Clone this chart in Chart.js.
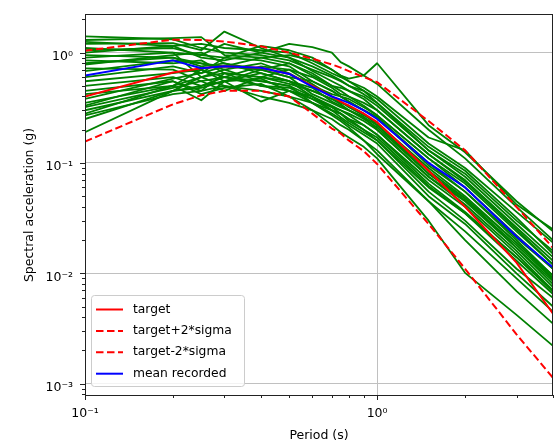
<!DOCTYPE html>
<html>
<head>
<meta charset="utf-8">
<script src="https://cdn.jsdelivr.net/npm/chart.js@4/dist/chart.umd.min.js"></script>
<style>
  html, body { margin: 0; padding: 0; background: #fff; }
  canvas { display: block; }
</style>
</head>
<body>
<canvas id="chart" width="554" height="442"></canvas>
<script>
// periods (s) at which the spectra are sampled
const periods = [0.1, 0.2, 0.25, 0.3, 0.4, 0.5, 0.6, 0.7, 0.75, 0.8, 0.9, 1.0, 1.5, 2.0, 3.0, 4.0];

const target           = [0.40, 0.66, 0.72, 0.75, 0.73, 0.64, 0.50, 0.40, 0.36, 0.33, 0.28, 0.234, 0.085, 0.040, 0.0125, 0.0043];
const targetPlus2Sigma = [1.04, 1.31, 1.30, 1.26, 1.14, 1.00, 0.88, 0.78, 0.73, 0.68, 0.60, 0.54, 0.24, 0.13, 0.040, 0.017];
const targetMinus2Sigma = [0.156, 0.34, 0.41, 0.45, 0.45, 0.40, 0.28, 0.205, 0.185, 0.16, 0.128, 0.098, 0.028, 0.011, 0.0028, 0.00113];
const meanRecorded     = [0.62, 0.85, 0.72, 0.75, 0.73, 0.64, 0.49, 0.40, 0.375, 0.35, 0.30, 0.25, 0.10, 0.060, 0.0216, 0.0113];

// recorded spectra, one row per record
const recorded = [
  [1.40, 1.32, 1.10, 1.00, 0.95, 0.85, 0.70, 0.60, 0.55, 0.50, 0.45, 0.38, 0.150, 0.090, 0.036, 0.019],
  [1.30, 1.35, 1.38, 0.95, 0.90, 0.80, 0.62, 0.50, 0.48, 0.45, 0.40, 0.33, 0.130, 0.080, 0.030, 0.016],
  [1.20, 1.22, 1.05, 1.55, 1.10, 0.90, 0.75, 0.62, 0.56, 0.50, 0.42, 0.35, 0.140, 0.085, 0.032, 0.015],
  [1.10, 1.00, 0.95, 0.90, 1.15, 1.05, 0.90, 0.70, 0.62, 0.58, 0.62, 0.80, 0.220, 0.125, 0.045, 0.024],
  [1.00, 1.15, 0.90, 0.85, 1.00, 1.20, 1.12, 1.00, 0.82, 0.75, 0.62, 0.52, 0.200, 0.110, 0.040, 0.020],
  [0.95, 0.90, 0.75, 0.80, 0.70, 0.60, 0.55, 0.45, 0.40, 0.38, 0.32, 0.27, 0.110, 0.060, 0.022, 0.011],
  [0.90, 1.00, 0.60, 0.70, 0.80, 0.65, 0.50, 0.42, 0.40, 0.36, 0.30, 0.26, 0.100, 0.055, 0.020, 0.0095],
  [0.85, 0.80, 0.85, 0.65, 0.60, 0.70, 0.60, 0.48, 0.42, 0.40, 0.35, 0.30, 0.120, 0.070, 0.026, 0.013],
  [0.78, 0.95, 1.00, 0.80, 0.65, 0.55, 0.45, 0.38, 0.35, 0.33, 0.28, 0.22, 0.085, 0.048, 0.017, 0.0085],
  [0.72, 0.70, 0.55, 0.60, 0.75, 0.70, 0.52, 0.40, 0.36, 0.32, 0.27, 0.23, 0.090, 0.050, 0.019, 0.0090],
  [0.68, 0.85, 0.80, 0.70, 0.55, 0.50, 0.40, 0.33, 0.30, 0.28, 0.24, 0.20, 0.075, 0.042, 0.016, 0.0075],
  [0.60, 0.75, 0.65, 0.90, 0.85, 0.75, 0.55, 0.45, 0.40, 0.36, 0.30, 0.26, 0.095, 0.055, 0.021, 0.011],
  [0.55, 0.65, 0.70, 0.60, 0.50, 0.45, 0.38, 0.30, 0.28, 0.25, 0.22, 0.18, 0.070, 0.040, 0.015, 0.0070],
  [0.50, 0.60, 0.50, 0.55, 0.70, 0.80, 0.65, 0.50, 0.45, 0.40, 0.33, 0.27, 0.110, 0.065, 0.024, 0.012],
  [0.45, 0.55, 0.45, 0.65, 0.60, 0.55, 0.48, 0.36, 0.33, 0.30, 0.25, 0.21, 0.080, 0.046, 0.018, 0.0088],
  [0.42, 0.50, 0.60, 0.50, 0.45, 0.40, 0.35, 0.30, 0.26, 0.23, 0.19, 0.16, 0.060, 0.035, 0.013, 0.0065],
  [0.38, 0.58, 0.65, 0.75, 0.70, 0.60, 0.42, 0.35, 0.32, 0.30, 0.26, 0.22, 0.080, 0.048, 0.019, 0.0095],
  [0.35, 0.50, 0.37, 0.55, 0.36, 0.45, 0.40, 0.32, 0.30, 0.27, 0.22, 0.18, 0.065, 0.036, 0.014, 0.0068],
  [0.32, 0.48, 0.55, 0.45, 0.60, 0.52, 0.45, 0.38, 0.34, 0.30, 0.26, 0.20, 0.075, 0.045, 0.017, 0.0080],
  [0.30, 0.45, 0.50, 0.60, 0.55, 0.50, 0.35, 0.28, 0.25, 0.22, 0.18, 0.15, 0.050, 0.028, 0.010, 0.0050],
  [0.28, 0.50, 0.70, 0.55, 0.65, 0.55, 0.40, 0.30, 0.28, 0.25, 0.20, 0.17, 0.062, 0.035, 0.014, 0.0070],
  [0.27, 0.42, 0.45, 0.50, 0.40, 0.35, 0.30, 0.25, 0.22, 0.20, 0.16, 0.13, 0.045, 0.024, 0.0090, 0.0045],
  [0.25, 0.45, 0.60, 0.65, 0.50, 0.48, 0.38, 0.32, 0.28, 0.24, 0.20, 0.16, 0.055, 0.030, 0.011, 0.0060],
  [0.19, 0.45, 0.48, 0.55, 0.58, 0.45, 0.35, 0.27, 0.24, 0.21, 0.16, 0.12, 0.045, 0.020, 0.0069, 0.0035],
  [0.33, 0.55, 0.42, 0.48, 0.52, 0.40, 0.30, 0.22, 0.19, 0.17, 0.14, 0.11, 0.030, 0.0101, 0.0042, 0.0022],
  [1.25, 1.15, 1.20, 1.10, 1.05, 1.00, 0.80, 0.65, 0.60, 0.55, 0.48, 0.40, 0.170, 0.130, 0.042, 0.025],
  [0.80, 0.90, 0.80, 0.75, 0.90, 0.95, 0.85, 0.70, 0.62, 0.55, 0.45, 0.35, 0.130, 0.075, 0.028, 0.014],
  [1.05, 1.10, 0.95, 1.20, 1.00, 0.90, 0.68, 0.55, 0.50, 0.45, 0.38, 0.30, 0.120, 0.068, 0.025, 0.012]
];

// axes
const xMajorTicks = [0.1, 1];
const xMajorLabels = ['10\u207B\u00B9', '10\u2070'];
const xMinorTicks = [0.2, 0.3, 0.4, 0.5, 0.6, 0.7, 0.8, 0.9, 2, 3, 4];
const yMajorTicks = [0.001, 0.01, 0.1, 1];
const yMajorLabels = ['10\u207B\u00B3', '10\u207B\u00B2', '10\u207B\u00B9', '10\u2070'];
const yMinorTicks = [0.0008, 0.0009, 0.002, 0.003, 0.004, 0.005, 0.006, 0.007, 0.008, 0.009,
  0.02, 0.03, 0.04, 0.05, 0.06, 0.07, 0.08, 0.09, 0.2, 0.3, 0.4, 0.5, 0.6, 0.7, 0.8, 0.9, 2];

const FONT = '"DejaVu Sans", sans-serif';
Chart.defaults.font.family = FONT;
Chart.defaults.font.size = 12.5;
Chart.defaults.color = '#000';

function pts(values) {
  return periods.map((p, i) => ({ x: p, y: values[i] }));
}
function isMajor(list, v) {
  return list.some((m) => Math.abs(m - v) / m < 1e-9);
}
function labelFor(list, labels, v) {
  const i = list.findIndex((m) => Math.abs(m - v) / m < 1e-9);
  return i >= 0 ? labels[i] : '';
}
// fixed axis boxes so the plot area lands where the reference has it
function fixBox(s, size) {
  if (s.isHorizontal()) s.height = size; else s.width = size;
  s.paddingLeft = 0;
  s.paddingRight = 0;
  s.paddingTop = 0;
  s.paddingBottom = 0;
}

const datasets = [
  { label: 'target', data: pts(target), borderColor: '#ff0000', borderWidth: 2, order: 1 },
  { label: 'target+2*sigma', data: pts(targetPlus2Sigma), borderColor: '#ff0000', borderWidth: 2, borderDash: [7.5, 3.5], order: 1 },
  { label: 'target-2*sigma', data: pts(targetMinus2Sigma), borderColor: '#ff0000', borderWidth: 2, borderDash: [7.5, 3.5], order: 1 },
  { label: 'mean recorded', data: pts(meanRecorded), borderColor: '#0000ff', borderWidth: 2, order: 0 },
  ...recorded.map((r) => ({ label: '', data: pts(r), borderColor: '#008000', borderWidth: 1.8, order: 2 }))
];
const legendCount = 4;

// spines, tick marks and the boxed legend in the lower left corner
const frameAndLegend = {
  id: 'frameAndLegend',
  afterDraw(chart) {
    const { ctx, chartArea: a, scales } = chart;
    ctx.save();
    ctx.strokeStyle = '#222';
    ctx.lineWidth = 1;
    ctx.setLineDash([]);
    ctx.beginPath();
    scales.x.ticks.forEach((t) => {
      const px = Math.round(scales.x.getPixelForValue(t.value)) + 0.5;
      const len = isMajor(xMajorTicks, t.value) ? 5 : 3;
      ctx.moveTo(px, a.bottom);
      ctx.lineTo(px, a.bottom + len);
    });
    scales.y.ticks.forEach((t) => {
      const py = Math.round(scales.y.getPixelForValue(t.value)) + 0.5;
      const len = isMajor(yMajorTicks, t.value) ? 5 : 3;
      ctx.moveTo(a.left, py);
      ctx.lineTo(a.left - len, py);
    });
    ctx.stroke();
    ctx.strokeRect(a.left + 0.5, a.top - 0.5, a.right - a.left - 1, a.bottom - a.top + 1);

    // legend
    const bx = 91.5, by = 295.5, bw = 153, bh = 91, r = 3;
    ctx.beginPath();
    ctx.moveTo(bx + r, by);
    ctx.arcTo(bx + bw, by, bx + bw, by + bh, r);
    ctx.arcTo(bx + bw, by + bh, bx, by + bh, r);
    ctx.arcTo(bx, by + bh, bx, by, r);
    ctx.arcTo(bx, by, bx + bw, by, r);
    ctx.closePath();
    ctx.fillStyle = 'rgba(255,255,255,0.8)';
    ctx.fill();
    ctx.strokeStyle = '#cccccc';
    ctx.stroke();

    ctx.font = '12.3px ' + FONT;
    ctx.textBaseline = 'middle';
    ctx.textAlign = 'left';
    chart.data.datasets.slice(0, legendCount).forEach((ds, i) => {
      const y = 309.5 + i * 21.4;
      ctx.beginPath();
      ctx.strokeStyle = ds.borderColor;
      ctx.lineWidth = ds.borderWidth;
      ctx.setLineDash(ds.borderDash || []);
      ctx.moveTo(96, y);
      ctx.lineTo(123, y);
      ctx.stroke();
      ctx.setLineDash([]);
      ctx.fillStyle = '#000';
      ctx.fillText(ds.label, 133, y);
    });
    ctx.restore();
  }
};

new Chart(document.getElementById('chart'), {
  type: 'line',
  data: { datasets },
  options: {
    responsive: false,
    animation: false,
    devicePixelRatio: 1,
    layout: { padding: { top: 15, right: 1, bottom: 0, left: 0 } },
    elements: {
      point: { radius: 0, hoverRadius: 0 },
      line: { tension: 0, borderJoinStyle: 'round', borderCapStyle: 'butt' }
    },
    plugins: { legend: { display: false }, tooltip: { enabled: false } },
    scales: {
      x: {
        type: 'logarithmic',
        min: 0.1,
        max: 4.0,
        afterFit: (s) => fixBox(s, 47),
        afterBuildTicks: (s) => {
          s.ticks = [...xMajorTicks, ...xMinorTicks].sort((p, q) => p - q).map((v) => ({ value: v }));
        },
        ticks: {
          autoSkip: false,
          maxRotation: 0,
          padding: 11.7,
          callback: (v) => labelFor(xMajorTicks, xMajorLabels, v)
        },
        grid: {
          drawTicks: false,
          lineWidth: 1,
          color: (c) => (c.tick && isMajor(xMajorTicks, c.tick.value) ? '#c0c0c0' : 'rgba(0,0,0,0)')
        },
        border: { display: false },
        title: {
          display: true,
          text: 'Period (s)',
          font: { size: 12.5, lineHeight: 1 },
          padding: { top: 0, bottom: 0 }
        }
      },
      y: {
        type: 'logarithmic',
        min: 0.00079,
        max: 2.19,
        afterFit: (s) => fixBox(s, 85),
        afterBuildTicks: (s) => {
          s.ticks = [...yMajorTicks, ...yMinorTicks].sort((p, q) => p - q).map((v) => ({ value: v }));
        },
        ticks: {
          autoSkip: false,
          padding: 12,
          labelOffset: 4,
          callback: (v) => labelFor(yMajorTicks, yMajorLabels, v)
        },
        grid: {
          drawTicks: false,
          lineWidth: 1,
          color: (c) => (c.tick && isMajor(yMajorTicks, c.tick.value) ? '#c0c0c0' : 'rgba(0,0,0,0)')
        },
        border: { display: false },
        title: {
          display: true,
          text: 'Spectral acceleration (g)',
          font: { size: 12.5 },
          padding: { top: 22.5, bottom: 0 }
        }
      }
    }
  },
  plugins: [frameAndLegend]
});
</script>
</body>
</html>
